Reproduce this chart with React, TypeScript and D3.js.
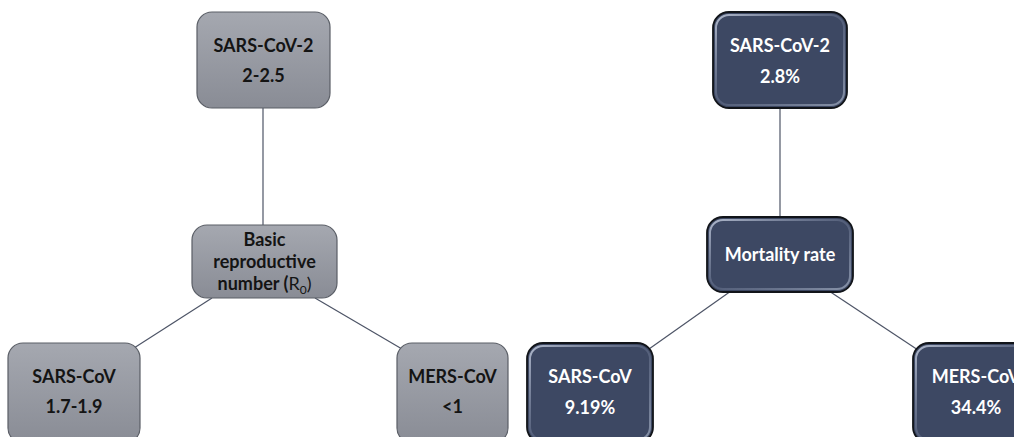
import * as d3 from 'd3';

// node texts
const r0Titles = ['SARS-CoV-2', 'SARS-CoV', 'MERS-CoV'];
const r0Values = ['2-2.5', '1.7-1.9', '<1'];
const mortTitles = ['SARS-CoV-2', 'SARS-CoV', 'MERS-CoV'];
const mortValues = ['2.8%', '9.19%', '34.4%'];
const r0Center = ['Basic', 'reproductive', 'number (|0|)'];
const mortCenter = ['Mortality rate'];

const W = 1014;
const H = 437;

type Box = { x: number; y: number; w: number; h: number };

// layout: top, bottom-left, bottom-right, center
const leftLayout = {
  boxes: [
    { x: 197, y: 12, w: 133, h: 96 },
    { x: 8, y: 343, w: 132, h: 100 },
    { x: 397, y: 343, w: 111, h: 100 },
  ] as Box[],
  center: { x: 192, y: 225, w: 145, h: 73 } as Box,
  links: [
    [[263, 108], [263, 225]],
    [[212, 298], [134, 348]],
    [[315, 298], [402, 349]],
  ],
};
const rightLayout = {
  boxes: [
    { x: 713, y: 12, w: 134, h: 96 },
    { x: 527, y: 343, w: 126, h: 100 },
    { x: 913, y: 343, w: 126, h: 100 },
  ] as Box[],
  center: { x: 707, y: 217, w: 146, h: 75 } as Box,
  links: [
    [[780, 108], [780, 217]],
    [[731, 291], [649, 349]],
    [[829, 291], [918, 350]],
  ],
};

const line = d3.line<number[]>().x(d => d[0]).y(d => d[1]);
const FONT = 'Lato, "Open Sans", sans-serif';
const FS = 18;

function GrayBox({ b, lines }: { b: Box; lines: string[] }) {
  return (
    <g>
      <rect x={b.x} y={b.y} width={b.w} height={b.h} rx={15} fill="url(#grayGrad)" stroke="#5a5e66" strokeWidth={1.2} />
      {lines.map((t, i) => (
        <text key={i} x={b.x + b.w / 2} y={b.y + 34 + i * 30} dy="0.35em" textAnchor="middle"
          fontFamily={FONT} fontWeight={700} fontSize={FS} fill="#141414">{t}</text>
      ))}
    </g>
  );
}

function NavyBox({ b, lines }: { b: Box; lines: string[] }) {
  const single = lines.length === 1;
  return (
    <g>
      <rect x={b.x} y={b.y} width={b.w} height={b.h} rx={16} fill="#3d4863" stroke="#111419" strokeWidth={1.8} />
      <rect x={b.x + 3} y={b.y + 3} width={b.w - 6} height={b.h - 6} rx={13} fill="none" stroke="url(#bevelGrad)" strokeWidth={2} />
      {lines.map((t, i) => (
        <text key={i} x={b.x + b.w / 2} y={single ? b.y + b.h / 2 : b.y + 34 + i * 31} dy="0.35em" textAnchor="middle"
          fontFamily={FONT} fontWeight={700} fontSize={FS} fill="#ffffff">{t}</text>
      ))}
    </g>
  );
}

function CenterText({ b, lines, fill, lh }: { b: Box; lines: string[]; fill: string; lh: number }) {
  const y0 = b.y + b.h / 2 - ((lines.length - 1) * lh) / 2;
  return (
    <>
      {lines.map((t, i) => {
        const parts = t.split('|');
        return (
          <text key={i} x={b.x + b.w / 2} y={y0 + i * lh} dy="0.35em" textAnchor="middle"
            fontFamily={FONT} fontWeight={700} fontSize={FS} fill={fill}>
            {parts.length === 1 ? t : (
              <>
                {parts[0]}
                <tspan fontWeight={400}>R</tspan>
                <tspan fontWeight={400} fontSize={12} dy="4">{parts[1]}</tspan>
                <tspan fontWeight={400} dy="-4">{parts[2]}</tspan>
              </>
            )}
          </text>
        );
      })}
    </>
  );
}

export default function App() {
  return (
    <svg width={W} height={H} style={{ position: 'absolute', left: 0, top: 0, background: '#fff' }}>
      <defs>
        <linearGradient id="grayGrad" x1="0" y1="0" x2="0" y2="1">
          <stop offset="0%" stopColor="#a5a8b0" />
          <stop offset="100%" stopColor="#898c95" />
        </linearGradient>
        <linearGradient id="bevelGrad" x1="0" y1="0" x2="1" y2="1">
          <stop offset="0%" stopColor="#b4bdd0" stopOpacity={0.95} />
          <stop offset="50%" stopColor="#6a7590" stopOpacity={0.5} />
          <stop offset="100%" stopColor="#95a0b5" stopOpacity={0.85} />
        </linearGradient>
      </defs>

      {/* connectors */}
      {leftLayout.links.map((l, i) => (
        <path key={'ll' + i} d={line(l as number[][]) || ''} stroke="#4d5466" strokeWidth={1.2} fill="none" />
      ))}
      {rightLayout.links.map((l, i) => (
        <path key={'rl' + i} d={line(l as number[][]) || ''} stroke="#4d5466" strokeWidth={1.2} fill="none" />
      ))}

      {/* R0 diagram */}
      {leftLayout.boxes.map((b, i) => (
        <GrayBox key={'lb' + i} b={b} lines={[r0Titles[i], r0Values[i]]} />
      ))}
      <rect x={leftLayout.center.x} y={leftLayout.center.y} width={leftLayout.center.w} height={leftLayout.center.h}
        rx={15} fill="url(#grayGrad)" stroke="#5a5e66" strokeWidth={1.2} />
      <CenterText b={leftLayout.center} lines={r0Center} fill="#141414" lh={22} />

      {/* mortality diagram */}
      {rightLayout.boxes.map((b, i) => (
        <NavyBox key={'rb' + i} b={b} lines={[mortTitles[i], mortValues[i]]} />
      ))}
      <NavyBox b={rightLayout.center} lines={mortCenter} />
    </svg>
  );
}
